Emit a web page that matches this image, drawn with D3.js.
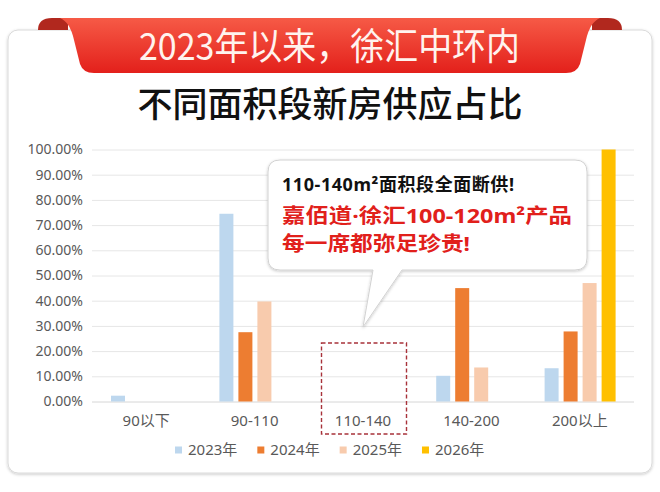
<!DOCTYPE html>
<html>
<head>
<meta charset="utf-8">
<script src="https://cdn.jsdelivr.net/npm/d3@7"></script>
<style>
  body { margin: 0; background: #fff; }
  svg { display: block; }
  text { font-family: "Noto Sans", "Noto Sans CJK SC", sans-serif; }
</style>
</head>
<body>
<svg id="chart" width="660" height="492"></svg>
<script>
var categories = ["90以下", "90-110", "110-140", "140-200", "200以上"];
var years = ["2023年", "2024年", "2025年", "2026年"];

// share of supply per area band, in percent
var values2023 = [2.3, 74.5, 0, 10.2, 13.2];
var values2024 = [0, 27.5, 0, 45.0, 27.8];
var values2025 = [0, 39.7, 0, 13.5, 47.0];
var values2026 = [0, 0, 0, 0, 100];

var yTicks = [0, 10, 20, 30, 40, 50, 60, 70, 80, 90, 100];

var series = [values2023, values2024, values2025, values2026].map(function(vals, i) {
    return { year: years[i], values: vals };
});

var svg = d3.select("#chart");
var defs = svg.append("defs");

defs.append("filter").attr("id", "shadow")
    .attr("x", "-10%").attr("y", "-10%").attr("width", "120%").attr("height", "130%")
    .append("feDropShadow")
    .attr("dx", 0).attr("dy", 1).attr("stdDeviation", 1.6)
    .attr("flood-color", "#000").attr("flood-opacity", 0.22);

var grad = defs.append("linearGradient").attr("id", "ribbon")
    .attr("x1", 0).attr("y1", 0).attr("x2", 0).attr("y2", 1);
grad.append("stop").attr("offset", "0%").attr("stop-color", "#f65a46");
grad.append("stop").attr("offset", "100%").attr("stop-color", "#e3201b");

// card
svg.append("rect")
    .attr("x", 8).attr("y", 30).attr("width", 644).attr("height", 443)
    .attr("rx", 10)
    .style("fill", "#fff")
    .style("stroke", "#dadada")
    .attr("filter", "url(#shadow)");

// ribbon folds behind the banner
svg.append("path")
    .attr("d", "M68,30 L38,30 Q38,18 52,18 L68,18 Z")
    .style("fill", "#b1281e");
svg.append("path")
    .attr("d", "M592,30 L622,30 Q622,18 608,18 L592,18 Z")
    .style("fill", "#b1281e");

svg.append("path")
    .attr("d", "M60,18 L600,18 Q590,22 586,40 L580,64 Q577,73 566,73 L94,73 Q83,73 80,64 L74,40 Q70,22 60,18 Z")
    .style("fill", "url(#ribbon)");

svg.append("text")
    .attr("x", 139).attr("y", 60)
    .attr("textLength", 381)
    .attr("lengthAdjust", "spacingAndGlyphs")
    .style("font-family", "'Noto Sans CJK SC', sans-serif")
    .style("font-size", "37px")
    .style("fill", "#fff3ee")
    .text("2023年以来，徐汇中环内");

svg.append("text")
    .attr("x", 330).attr("y", 117)
    .attr("text-anchor", "middle")
    .style("font-family", "'Noto Sans CJK SC', sans-serif")
    .style("font-size", "35px")
    .style("font-weight", 500)
    .style("fill", "#111")
    .text("不同面积段新房供应占比");

// scales
var plotLeft = 92, plotRight = 634, plotTop = 149.5, plotBottom = 401.5;

var x0 = d3.scaleBand().domain(categories).range([plotLeft, plotRight]);
var x1 = d3.scaleBand().domain(years).range([19, 90]).paddingInner(5 / 19);
var y = d3.scaleLinear().domain([0, 100]).range([plotBottom, plotTop]);
var color = d3.scaleOrdinal().domain(years)
    .range(["#bdd7ee", "#ed7d31", "#f8cbad", "#ffc000"]);

// y axis + gridlines
var yAxis = svg.append("g")
    .attr("transform", "translate(" + plotLeft + ",0)")
    .call(d3.axisLeft(y)
        .tickValues(yTicks)
        .tickSize(-(plotRight - plotLeft))
        .tickPadding(9)
        .tickFormat(function(d) { return d.toFixed(2) + "%"; }));
yAxis.select(".domain").remove();
yAxis.selectAll(".tick line")
    .style("stroke", function(d) { return d === 0 ? "#d6d6d6" : "#e6e6e6"; });
yAxis.selectAll(".tick text")
    .style("font-size", "14px")
    .style("fill", "#595959");

// x axis labels
var xAxis = svg.append("g")
    .attr("transform", "translate(0," + plotBottom + ")")
    .call(d3.axisBottom(x0).tickSize(0).tickPadding(14));
xAxis.select(".domain").remove();
xAxis.selectAll(".tick text")
    .style("font-size", "15px")
    .style("fill", "#595959");

// bars
var groups = svg.append("g").selectAll("g")
    .data(series)
    .enter()
    .append("g")
    .style("fill", function(d) { return color(d.year); });

groups.selectAll("rect")
    .data(function(d) {
        return d.values.map(function(v, i) {
            return { year: d.year, cat: categories[i], value: v };
        }).filter(function(d) { return d.value > 0; });
    })
    .enter()
    .append("rect")
    .attr("x", function(d) { return x0(d.cat) + x1(d.year); })
    .attr("width", x1.bandwidth())
    .attr("y", function(d) { return y(d.value); })
    .attr("height", function(d) { return y(0) - y(d.value); });

// dashed frame on the empty band
var cx = x0("110-140") + x0.bandwidth() / 2;
svg.append("rect")
    .attr("x", cx - 41.5).attr("y", 343)
    .attr("width", 85).attr("height", 91)
    .style("fill", "none")
    .style("stroke", "#a8323a")
    .style("stroke-width", 1.4)
    .style("stroke-dasharray", "4,2.5");

// callout bubble
svg.append("path")
    .attr("d", "M280,160 H575 Q587,160 587,172 V258 Q587,270 575,270 H402 L363,327 L373,270 H280 Q268,270 268,258 V172 Q268,160 280,160 Z")
    .style("fill", "#fff")
    .style("stroke", "#d2d2d2")
    .attr("filter", "url(#shadow)");

svg.append("text")
    .attr("x", 282).attr("y", 191)
    .attr("textLength", 232)
    .style("font-size", "18px")
    .style("font-weight", 700)
    .style("fill", "#111")
    .text("110-140m²面积段全面断供!");

svg.append("text")
    .attr("x", 282).attr("y", 223)
    .attr("textLength", 290)
    .attr("lengthAdjust", "spacingAndGlyphs")
    .style("font-size", "20px")
    .style("font-weight", 700)
    .style("fill", "#e1201b")
    .text("嘉佰道·徐汇100-120m²产品");

svg.append("text")
    .attr("x", 282).attr("y", 251)
    .attr("textLength", 188)
    .attr("lengthAdjust", "spacingAndGlyphs")
    .style("font-size", "20px")
    .style("font-weight", 700)
    .style("fill", "#e1201b")
    .text("每一席都弥足珍贵!");

// legend
var legend = svg.append("g");
var lx = 175;
years.forEach(function(yr) {
    legend.append("rect")
        .attr("x", lx).attr("y", 446.5)
        .attr("width", 7).attr("height", 7)
        .style("fill", color(yr));
    var t = legend.append("text")
        .attr("x", lx + 13).attr("y", 455)
        .style("font-size", "15px")
        .style("fill", "#595959")
        .text(yr);
    lx += 13 + t.node().getComputedTextLength() + 20;
});
</script>
</body>
</html>
